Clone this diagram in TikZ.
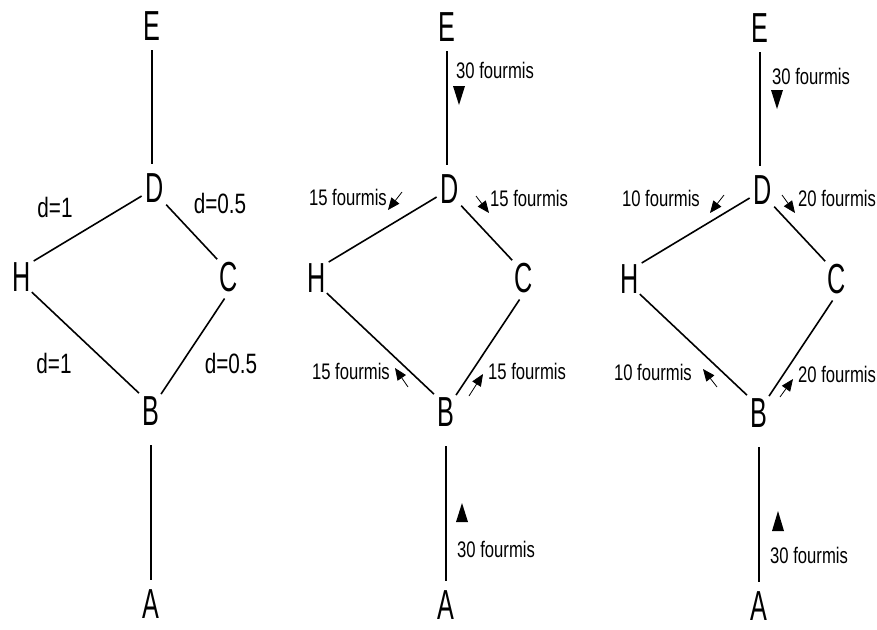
\documentclass[tikz,border=0pt]{standalone}
\usepackage{fontspec}
\setmainfont{Liberation Sans}
\newfontfamily\vertexfont[FakeStretch=0.6]{Liberation Sans}
\newfontfamily\notefont[FakeStretch=0.74]{Liberation Sans}
\usetikzlibrary{arrows.meta}

\tikzset{
  vertex/.style={font=\vertexfont\fontsize{42}{42}\selectfont, inner sep=0pt, outer sep=0pt},
  weight/.style={font=\notefont\fontsize{28}{28}\selectfont, inner sep=0pt},
  count/.style={font=\notefont\fontsize{22.5}{22.5}\selectfont, inner sep=0pt},
  edge/.style={line width=1.6pt},
  flow/.style={line width=0.8pt, -{Triangle[length=12pt,width=10pt]}},
  bigtip/.style={fill=black}
}

% One copy of the graph: vertices E, D, H, C, B, A and their edges,
% every name suffixed with #1
\newcommand\antgraph[1]{%
  \node[vertex] (E#1) at (152,26)  {E};
  \node[vertex] (D#1) at (155,188) {D};
  \node[vertex] (H#1) at (22,277)  {H};
  \node[vertex] (C#1) at (229,277) {C};
  \node[vertex] (B#1) at (151,411) {B};
  \node[vertex] (A#1) at (151,604) {A};
  \draw[edge, shorten <=10pt, shorten >=10pt] (E#1.south) -- (E#1.south |- D#1.north);
  \draw[edge, shorten <=5pt, shorten >=3pt] (D#1) -- (H#1.north east);
  \draw[edge, shorten <=1pt, shorten >=5pt] (H#1.south east) -- (B#1.north west);
  \draw[edge, shorten <=3pt, shorten >=4pt] (D#1.south east) -- (C#1.north west);
  \draw[edge, shorten <=8pt, shorten >=3pt] (C#1.south) -- (B#1.north east);
  \draw[edge, shorten <=20pt, shorten >=10pt] (B#1.south) -- (B#1.south |- A#1.north);
}

\begin{document}
\begin{tikzpicture}[x=1pt, y=-1pt]
  \fill[white] (0,0) rectangle (877,629);
  \useasboundingbox (0,0) rectangle (877,629);

  % ---- graph with the edge lengths
  \antgraph{a}
  \node[weight] (wDH) at (55,207)  {d=1};
  \node[weight] (wDC) at (220,203) {d=0.5};
  \node[weight] (wHB) at (54,363)  {d=1};
  \node[weight] (wCB) at (231,363) {d=0.5};

  % ---- first split: 15 / 15
  \begin{scope}[shift={(295,1)}]
    \antgraph{b}
  \end{scope}
  \node[count, anchor=west] (bEtop) at (456,70)  {30 fourmis};
  \fill[bigtip] (453,86) -- (465,86) -- (459,105) -- cycle;
  \node[count, anchor=east] (bDH) at (387,197) {15 fourmis};
  \draw[flow] (402,192) -- (388,210);
  \node[count, anchor=west] (bDC) at (490,198) {15 fourmis};
  \draw[flow] (476,196) -- (489,213);
  \node[count, anchor=east] (bHB) at (390,371) {15 fourmis};
  \draw[flow] (408,387) -- (395,368);
  \node[count, anchor=west] (bCB) at (488,371) {15 fourmis};
  \draw[flow] (469,396) -- (483,374);
  \fill[bigtip] (456,522) -- (468,522) -- (462,503) -- cycle;
  \node[count, anchor=west] (bAbot) at (457,549) {30 fourmis};

  % ---- second split: 10 / 20
  \begin{scope}[shift={(608,2)}]
    \antgraph{c}
  \end{scope}
  \node[count, anchor=west] (cEtop) at (772,76)  {30 fourmis};
  \fill[bigtip] (771,90) -- (783,90) -- (777,109) -- cycle;
  \node[count, anchor=east] (cDH) at (700,198) {10 fourmis};
  \draw[flow] (724,195) -- (710,213);
  \node[count, anchor=west] (cDC) at (798,198) {20 fourmis};
  \draw[flow] (782,195) -- (795,213);
  \node[count, anchor=east] (cHB) at (692,372) {10 fourmis};
  \draw[flow] (717,387) -- (703,369);
  \node[count, anchor=west] (cCB) at (798,374) {20 fourmis};
  \draw[flow] (780,397) -- (793,379);
  \fill[bigtip] (772,531) -- (784,531) -- (778,511) -- cycle;
  \node[count, anchor=west] (cAbot) at (770,555) {30 fourmis};
\end{tikzpicture}
\end{document}
